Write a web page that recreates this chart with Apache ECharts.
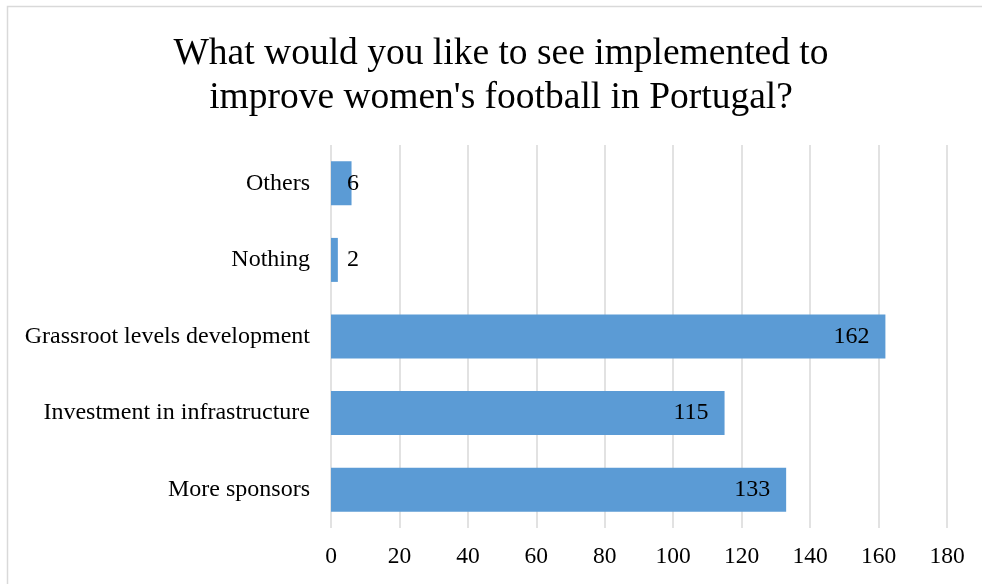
<!DOCTYPE html>
<html>
<head>
<meta charset="utf-8">
<script src="https://cdn.jsdelivr.net/npm/echarts@6/dist/echarts.min.js"></script>
<style>
  html, body { margin: 0; padding: 0; background: #fff; }
  #chart { width: 982px; height: 584px; }
</style>
</head>
<body>
<div id="chart"></div>
<script>
// Survey answers, listed bottom to top as they appear on the category axis
const categories = [
  'More sponsors',
  'Investment in infrastructure',
  'Grassroot levels development',
  'Nothing',
  'Others'
];
const responses = [133, 115, 162, 2, 6];
const axisTicks = [0, 20, 40, 60, 80, 100, 120, 140, 160, 180];

const serif = '"Liberation Serif", "Times New Roman", serif';
const barColor = '#5B9BD5';
const gridColor = '#d9d9d9';

// Short bars get their value just past the bar start; long bars carry it inside the end
const seriesData = responses.map(v => {
  const small = v < 20;
  return {
    value: v,
    label: small
      ? { position: [16, '50%'], align: 'left', verticalAlign: 'middle' }
      : { position: 'insideRight', distance: 16 }
  };
});

const chart = echarts.init(document.getElementById('chart'), null, { renderer: 'canvas' });

chart.setOption({
  backgroundColor: '#fff',
  animation: false,
  graphic: [{
    type: 'rect',
    shape: { x: 7.5, y: 6.5, width: 1000, height: 600 },
    style: { fill: 'none', stroke: gridColor, lineWidth: 1.5 },
    silent: true
  }],
  title: {
    text: 'What would you like to see implemented to\nimprove women\'s football in Portugal?',
    left: 496,
    textAlign: 'center',
    top: 27,
    textStyle: {
      fontFamily: serif,
      fontSize: 37.5,
      fontWeight: 'normal',
      color: '#000',
      lineHeight: 44
    }
  },
  grid: { left: 331, right: 35, top: 145, bottom: 56, containLabel: false },
  xAxis: {
    type: 'value',
    min: axisTicks[0],
    max: axisTicks[axisTicks.length - 1],
    interval: axisTicks[1] - axisTicks[0],
    axisLine: { show: false },
    axisTick: { show: false },
    axisLabel: {
      fontFamily: serif,
      fontSize: 23.5,
      color: '#000',
      margin: 17
    },
    splitLine: { show: true, lineStyle: { color: gridColor, width: 1.5 } }
  },
  yAxis: {
    type: 'category',
    data: categories,
    axisLine: { show: false },
    axisTick: { show: false },
    axisLabel: {
      fontFamily: serif,
      fontSize: 24,
      color: '#000',
      margin: 21
    },
    splitLine: { show: false }
  },
  series: [{
    type: 'bar',
    data: seriesData,
    barWidth: 44,
    itemStyle: { color: barColor },
    label: {
      show: true,
      fontFamily: serif,
      fontSize: 24,
      color: '#000'
    }
  }]
});
</script>
</body>
</html>
